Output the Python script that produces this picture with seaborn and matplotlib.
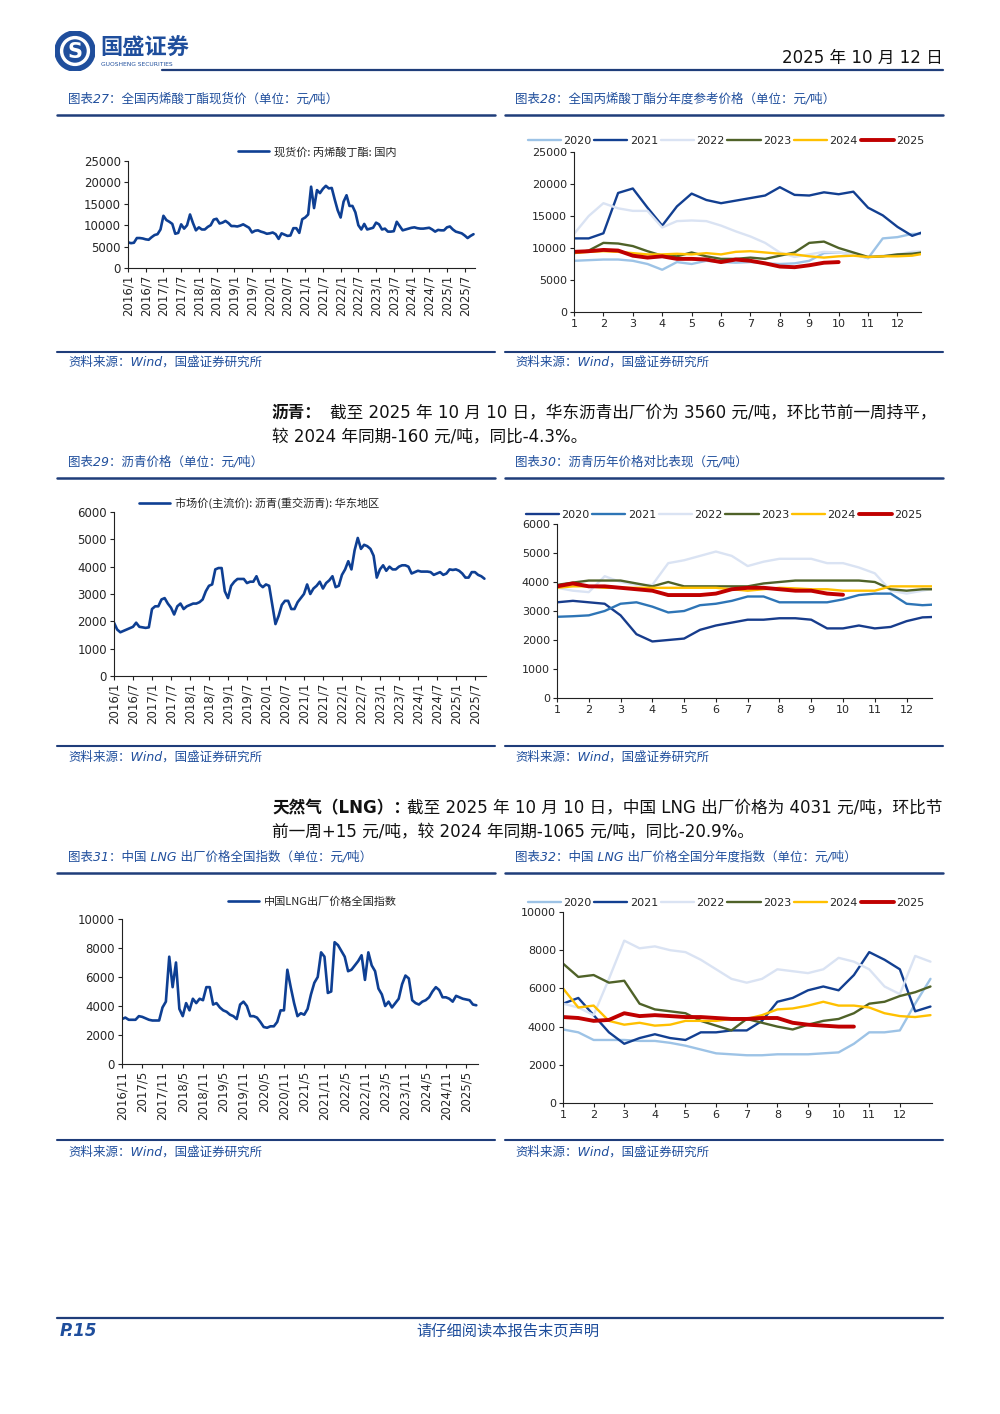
import numpy as np
import pandas as pd
import matplotlib
matplotlib.use("Agg")
import matplotlib.pyplot as plt
from matplotlib.lines import Line2D
from matplotlib.patches import Circle
import seaborn as sns

sns.set_style("white")
plt.rcParams['font.family'] = ['DejaVu Sans', 'Noto Sans CJK SC']
plt.rcParams['axes.unicode_minus'] = False

# ---------- data ----------
# 丙烯酸丁酯现货价, monthly 2016/1 - 2025/10
ba_monthly = [
    6000, 5800, 5900, 7000, 7000, 6900, 6700, 6600, 7200, 7700, 7900, 9000,
    12200, 11200, 10800, 10300, 8000, 8200, 10200, 9200, 10000, 12500, 10500, 8800,
    9500, 9000, 9000, 9600, 10000, 11300, 11500, 10400, 10600, 11000, 10500, 9800,
    9800, 9700, 9900, 10200, 9800, 9400, 8300, 8700, 8800, 8500, 8300, 8000,
    8100, 8300, 7900, 6800, 8100, 7800, 7500, 7600, 9300, 9300, 8200, 11400,
    11800, 12500, 19000, 14000, 18200, 17500, 18500, 19200, 18600, 18700, 16000, 13500,
    11800, 15500, 17000, 14500, 14500, 13000, 10000, 9000, 10300, 9000, 9200, 9400,
    10600, 10200, 9000, 9200, 8500, 8500, 8600, 10800, 9800, 8800, 9000, 9200,
    9400, 9500, 9300, 9200, 9200, 9300, 9400, 9000, 8500, 8900, 8800, 8800,
    9500, 9700, 9000, 8500, 8300, 8100, 7600, 7000, 7500, 7900,
]

# 沥青市场价, monthly 2016/1 - 2025/10
asp_monthly = [
    1950, 1700, 1600, 1650, 1700, 1750, 1800, 1950, 1800, 1780, 1760, 1780,
    2450, 2550, 2550, 2800, 2850, 2650, 2500, 2250, 2550, 2650, 2450, 2550,
    2600, 2650, 2650, 2700, 2800, 3100, 3300, 3350, 3900, 3950, 3950, 3100,
    2850, 3300, 3450, 3550, 3550, 3550, 3400, 3450, 3450, 3650, 3350, 3250,
    3350, 3300, 2600, 1900, 2200, 2600, 2750, 2750, 2450, 2450, 2700, 2850,
    3000, 3350, 3000, 3200, 3300, 3450, 3200, 3400, 3500, 3650, 3250, 3300,
    3700, 3900, 4200, 3900, 4600, 5050, 4650, 4800, 4750, 4650, 4400, 3600,
    3900, 4050, 3850, 4000, 3900, 3900, 4000, 4050, 4050, 4000, 3750, 3800,
    3850, 3820, 3820, 3820, 3800, 3700, 3750, 3800, 3700, 3750, 3900, 3880,
    3900, 3850, 3750, 3600, 3600, 3800, 3800, 3700, 3650, 3560,
]

# 中国LNG出厂价格全国指数, monthly 2016/11 - 2025/8
lng_monthly = [
    3100, 3200,
    3050, 3050, 3050, 3300, 3250, 3150, 3050, 3000, 3000, 3000, 3900, 4300,
    7400, 5300, 7000, 3800, 3300, 4200, 3700, 4500, 4200, 4500, 4400, 5300,
    5300, 4100, 4200, 3900, 3700, 3600, 3400, 3300, 3100, 4100, 4300, 4000,
    3300, 3300, 3200, 2900, 2550, 2500, 2600, 2600, 2900, 3700, 3700, 6500,
    5300, 4200, 3300, 3500, 3400, 3800, 4800, 5600, 6000, 7700, 7400, 4900,
    5000, 8400, 8200, 7800, 7400, 6400, 6500, 6800, 7100, 7500, 5800, 7700,
    6800, 6400, 5200, 4800, 4000, 4300, 3900, 4200, 4500, 5500, 6100, 5900,
    4400, 4200, 4100, 4300, 4400, 4600, 5000, 5300, 5100, 4600, 4600, 4500,
    4300, 4700, 4600, 4500, 4450, 4400, 4100, 4050,
]

years = ["2020", "2021", "2022", "2023", "2024", "2025"]
half_months = np.arange(1.0, 13.01, 0.5)

# 丙烯酸丁酯 by year (half-month steps)
ba_2020 = [8000, 8100, 8200, 8200, 8000, 7500, 6600, 7800, 7500, 8000, 7800, 7700, 7800,
           7600, 7500, 7600, 8000, 9200, 9300, 9000, 8400, 11500, 11700, 12200, 12200]
ba_2021 = [11500, 11500, 12300, 18600, 19300, 16300, 13500, 16500, 18500, 17500, 17000, 17400, 17800,
           18200, 19500, 18300, 18200, 18700, 18400, 18800, 16300, 15100, 13300, 11900, 12700]
ba_2022 = [12200, 15000, 17000, 16200, 15800, 15800, 13200, 14200, 14300, 14200, 13500, 12600, 11800,
           10800, 9300, 8600, 9000, 9400, 9300, 9000, 8500, 8800, 9000, 9400, 9500]
ba_2023 = [9200, 9600, 10800, 10700, 10300, 9500, 8800, 8700, 9300, 8700, 8300, 8300, 8500,
           8300, 8800, 9300, 10800, 11000, 10000, 9300, 8600, 8700, 9000, 9100, 9400]
ba_2024 = [9200, 9400, 9500, 9400, 9200, 9000, 9000, 9100, 9000, 9200, 9000, 9400, 9500,
           9300, 9100, 9000, 8700, 8500, 8700, 8800, 8600, 8700, 8700, 8800, 9200]
ba_2025 = [9400, 9500, 9700, 9600, 8800, 8500, 8700, 8300, 8300, 8200, 7800, 8200, 8000,
           7600, 7100, 7000, 7300, 7700, 7800]

# 沥青 by year
asp_2020 = [3300, 3350, 3300, 3250, 2850, 2200, 1950, 2000, 2050, 2350, 2500, 2600, 2700,
            2700, 2750, 2750, 2700, 2400, 2400, 2500, 2400, 2450, 2650, 2780, 2800]
asp_2021 = [2800, 2820, 2850, 3000, 3250, 3300, 3150, 2950, 3000, 3200, 3250, 3350, 3500,
            3500, 3300, 3300, 3300, 3300, 3400, 3550, 3600, 3600, 3250, 3200, 3230]
asp_2022 = [3800, 3700, 3650, 4200, 4000, 3900, 3900, 4650, 4750, 4900, 5050, 4900, 4550,
            4700, 4800, 4800, 4800, 4650, 4650, 4500, 4300, 3700, 3600, 3700, 3800]
asp_2023 = [3900, 3980, 4050, 4050, 4050, 3950, 3850, 4000, 3850, 3850, 3850, 3850, 3850,
            3950, 4000, 4050, 4050, 4050, 4050, 4050, 4000, 3750, 3700, 3750, 3750]
asp_2024 = [3800, 3850, 3850, 3800, 3800, 3800, 3800, 3800, 3800, 3800, 3800, 3750, 3700,
            3750, 3800, 3780, 3750, 3750, 3700, 3700, 3700, 3850, 3850, 3850, 3850]
asp_2025 = [3850, 3950, 3850, 3850, 3800, 3750, 3700, 3550, 3550, 3550, 3600, 3750, 3800,
            3800, 3750, 3700, 3700, 3600, 3560]

# LNG by year
lng_2020 = [3850, 3700, 3300, 3300, 3300, 3250, 3250, 3150, 3000, 2800, 2600, 2550, 2500,
            2500, 2550, 2550, 2550, 2600, 2650, 3100, 3700, 3700, 3800, 5200, 6500]
lng_2021 = [5200, 5500, 4600, 3700, 3100, 3400, 3600, 3400, 3300, 3700, 3700, 3800, 3800,
            4300, 5300, 5500, 5900, 6100, 5900, 6700, 7900, 7500, 7000, 4800, 5050]
lng_2022 = [5200, 5000, 4600, 6500, 8500, 8100, 8200, 8000, 7900, 7500, 7000, 6500, 6300,
            6500, 7000, 6900, 6800, 7000, 7600, 7400, 7000, 6100, 5700, 7700, 7400]
lng_2023 = [7300, 6600, 6700, 6300, 6400, 5200, 4900, 4800, 4700, 4300, 4050, 3800, 4400,
            4200, 4000, 3850, 4100, 4300, 4400, 4700, 5200, 5300, 5600, 5800, 6100]
lng_2024 = [6000, 5000, 5100, 4300, 4100, 4200, 4050, 4100, 4300, 4300, 4300, 4400, 4400,
            4600, 4900, 4950, 5100, 5300, 5100, 5100, 5000, 4700, 4550, 4500, 4600]
lng_2025 = [4500, 4450, 4300, 4350, 4700, 4550, 4600, 4550, 4500, 4500, 4450, 4400, 4400,
            4450, 4450, 4200, 4100, 4050, 4000, 4000]

ba_labels = [f"{2016 + i // 2}/{1 if i % 2 == 0 else 7}" for i in range(20)]
lng_labels = [f"{2016 + (i + 1) // 2}/{11 if i % 2 == 0 else 5}" for i in range(18)]

MAIN_BLUE = "#0E3F93"
TITLE_BLUE = "#1F4E9C"
LINE_BLUE = "#1F3D7A"
colors_a = ["#9DC3E6", "#123F91", "#DAE3F3", "#4F6228", "#FFC000", "#C00000"]
colors_b = ["#173C8C", "#2E75B6", "#DAE3F3", "#4F6228", "#FFC000", "#C00000"]

W, H = 1000, 1414
fig = plt.figure(figsize=(10, 14.14), dpi=100)


def fx(x):
    return x / W


def fy(y):
    return 1 - y / H


def hline(x0, x1, y, lw=1.5, color=LINE_BLUE):
    fig.add_artist(Line2D([fx(x0), fx(x1)], [fy(y), fy(y)], color=color, lw=lw,
                          transform=fig.transFigure))


def rect(l, t, r, b):
    return [fx(l), fy(b), fx(r) - fx(l), (b - t) / H]


def style_axes(ax):
    sns.despine(ax=ax)
    for s in ["left", "bottom"]:
        ax.spines[s].set_color("#222222")
        ax.spines[s].set_linewidth(0.8)
    ax.tick_params(axis="both", direction="out", length=3, width=0.8,
                   color="#222222", labelsize=8.5, pad=2, left=True, bottom=True)


def series_chart(box, values, ylim, yticks, labels, label_step, xmax, leg_text, leg_xy):
    ax = fig.add_axes(rect(*box))
    df = pd.DataFrame({"t": np.arange(len(values)), "v": values})
    sns.lineplot(data=df, x="t", y="v", ax=ax, color=MAIN_BLUE, lw=1.9, label=leg_text)
    ax.set_xlim(0, xmax)
    ax.set_ylim(*ylim)
    ax.set_yticks(yticks)
    ax.set_xticks(np.arange(len(labels)) * label_step)
    ax.set_xticklabels(labels, rotation=90, fontsize=8)
    ax.set_xlabel("")
    ax.set_ylabel("")
    style_axes(ax)
    ax.legend(loc="center left", bbox_to_anchor=(fx(leg_xy[0]), fy(leg_xy[1])),
              bbox_transform=fig.transFigure, frameon=False,
              handlelength=2.8, handletextpad=0.4,
              prop={"family": ["Noto Sans CJK SC"], "size": 8})
    return ax


def yearly_chart(box, series, colors, ylim, yticks, xmax, leg_x, leg_y):
    ax = fig.add_axes(rect(*box))
    for yr, vals, c in zip(years, series, colors):
        lw = 2.8 if yr == "2025" else 1.7
        sns.lineplot(x=half_months[:len(vals)], y=vals, ax=ax, color=c, lw=lw, label=yr)
    ax.set_xlim(1, xmax)
    ax.set_ylim(*ylim)
    ax.set_yticks(yticks)
    ax.set_xticks(range(1, 13))
    ax.set_xlabel("")
    ax.set_ylabel("")
    style_axes(ax)
    ax.tick_params(labelsize=8)
    ax.legend(loc="center", bbox_to_anchor=(fx(leg_x), fy(leg_y)),
              bbox_transform=fig.transFigure, ncol=6, frameon=False, fontsize=8,
              handlelength=3.0, handletextpad=0.2, columnspacing=0.25,
              borderaxespad=0, borderpad=0)
    return ax


# ---------- header ----------
logo = fig.add_axes(rect(55, 31, 95, 71))
logo.set_xlim(-1, 1)
logo.set_ylim(-1, 1)
logo.set_aspect("equal")
logo.axis("off")
logo.add_patch(Circle((0, 0), 1.0, color=TITLE_BLUE))
logo.add_patch(Circle((0, 0), 0.72, color="white"))
logo.add_patch(Circle((0, 0), 0.55, color=TITLE_BLUE))
logo.text(0, -0.05, "S", color="white", fontsize=15, fontweight="bold",
          ha="center", va="center")
fig.text(fx(100), fy(48), "国盛证券", fontsize=16, fontweight="bold", color=TITLE_BLUE,
         ha="left", va="center", family=["Noto Sans CJK SC"])
fig.text(fx(101), fy(64), "GUOSHENG SECURITIES", fontsize=4.3, color=TITLE_BLUE,
         ha="left", va="center")
fig.text(fx(943), fy(58), "2025 年 10 月 12 日", fontsize=12, color="#111111",
         ha="right", va="center")
hline(162, 943, 70, lw=1.6)

# ---------- section titles / lines ----------
title_kw = dict(fontsize=9, color=TITLE_BLUE, ha="left", va="center", style="italic")
src = "资料来源：Wind，国盛证券研究所"
rows = [(99, 115, 352, 362), (462, 478, 746, 757), (857, 873, 1140, 1152)]
titles = [("图表27：全国丙烯酸丁酯现货价（单位：元/吨）", "图表28：全国丙烯酸丁酯分年度参考价格（单位：元/吨）"),
          ("图表29：沥青价格（单位：元/吨）", "图表30：沥青历年价格对比表现（元/吨）"),
          ("图表31：中国 LNG 出厂价格全国指数（单位：元/吨）", "图表32：中国 LNG 出厂价格全国分年度指数（单位：元/吨）")]
for (ty, ly, sy, sty), (t1, t2) in zip(rows, titles):
    fig.text(fx(68), fy(ty), t1, **title_kw)
    fig.text(fx(515), fy(ty), t2, **title_kw)
    hline(57, 495, ly, lw=1.8)
    hline(505, 943, ly, lw=1.8)
    hline(57, 495, sy, lw=1.5)
    hline(505, 943, sy, lw=1.5)
    fig.text(fx(68), fy(sty), src, **title_kw)
    fig.text(fx(515), fy(sty), src, **title_kw)

# ---------- body text ----------
body_kw = dict(fontsize=12, color="#111111", ha="left", va="center")
fig.text(fx(272), fy(413), "沥青：", fontweight="bold", **body_kw)
fig.text(fx(330), fy(413), "截至 2025 年 10 月 10 日，华东沥青出厂价为 3560 元/吨，环比节前一周持平，", **body_kw)
fig.text(fx(272), fy(437), "较 2024 年同期-160 元/吨，同比-4.3%。", **body_kw)
fig.text(fx(272), fy(808), "天然气（LNG）：", fontweight="bold", **body_kw)
fig.text(fx(407), fy(808), "截至 2025 年 10 月 10 日，中国 LNG 出厂价格为 4031 元/吨，环比节", **body_kw)
fig.text(fx(272), fy(832), "前一周+15 元/吨，较 2024 年同期-1065 元/吨，同比-20.9%。", **body_kw)

# ---------- charts ----------
series_chart((128, 161, 475, 268), ba_monthly, (0, 25000), range(0, 25001, 5000),
             ba_labels, 6, 117.5, "现货价: 丙烯酸丁酯: 国内", (228, 152))
yearly_chart((574, 152, 921, 312), [ba_2020, ba_2021, ba_2022, ba_2023, ba_2024, ba_2025],
             colors_a, (0, 25000), range(0, 25001, 5000), 12.8, 726, 141)

series_chart((114, 512, 486, 676), asp_monthly, (0, 6000), range(0, 6001, 1000),
             ba_labels, 6, 117.5, "市场价(主流价): 沥青(重交沥青): 华东地区", (129, 503))
yearly_chart((557, 524, 932, 698), [asp_2020, asp_2021, asp_2022, asp_2023, asp_2024, asp_2025],
             colors_b, (0, 6000), range(0, 6001, 1000), 12.8, 724, 515)

series_chart((122, 919, 478, 1064), lng_monthly, (0, 10000), range(0, 10001, 2000),
             lng_labels, 6, 105.5, "中国LNG出厂价格全国指数", (218, 902))
yearly_chart((563, 912, 932, 1103), [lng_2020, lng_2021, lng_2022, lng_2023, lng_2024, lng_2025],
             colors_a, (0, 10000), range(0, 10001, 2000), 13.05, 726, 903)

# ---------- footer ----------
hline(57, 943, 1318, lw=1.6)
fig.text(fx(60), fy(1331), "P.15", fontsize=12, fontweight="bold", style="italic",
         color=TITLE_BLUE, ha="left", va="center")
fig.text(fx(508), fy(1331), "请仔细阅读本报告末页声明", fontsize=11, color=TITLE_BLUE,
         ha="center", va="center", style="italic")

fig.savefig("out.png", dpi=100)
